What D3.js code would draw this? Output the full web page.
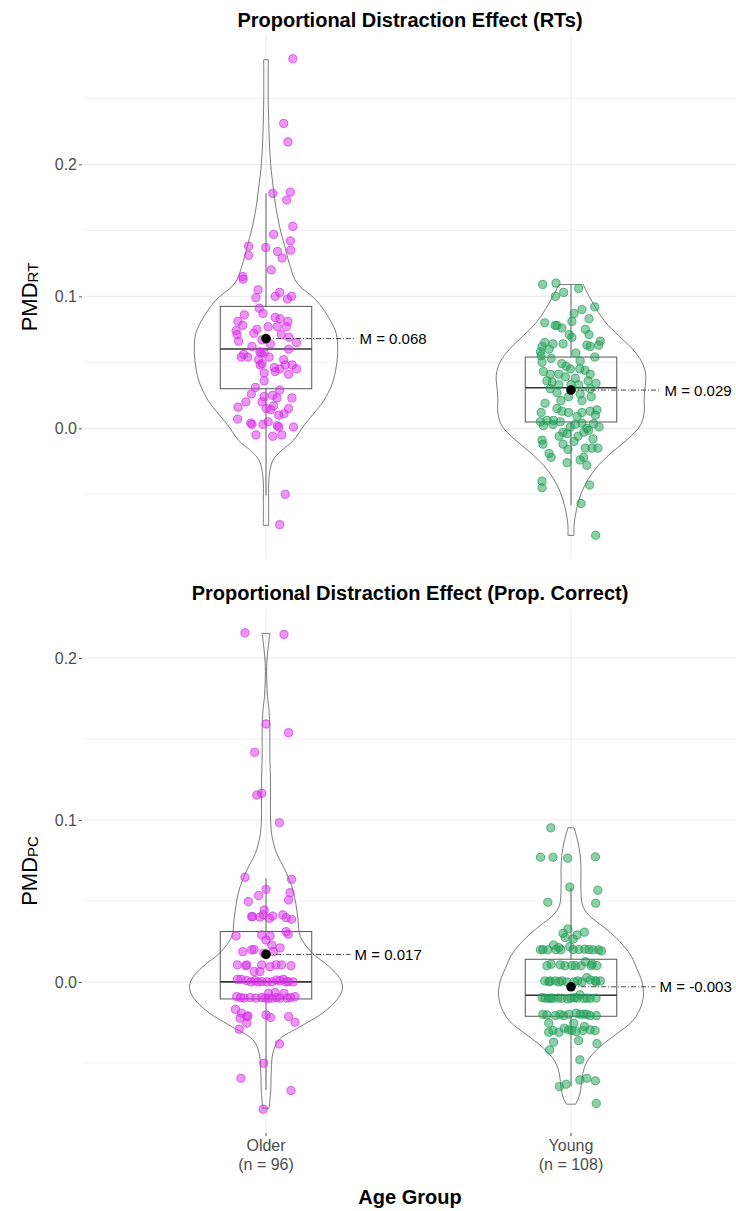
<!DOCTYPE html>
<html>
<head>
<meta charset="utf-8">
<script src="https://cdn.jsdelivr.net/npm/d3@7"></script>
<style>
  html, body { margin: 0; padding: 0; background: #fff; }
  svg { display: block; font-family: "Liberation Sans", Arial, sans-serif; }
</style>
</head>
<body>
<svg id="chart" width="736" height="1211"></svg>
<script>
// groups on the x axis
const groups = ["Older", "Young"];
const groupCounts = ["(n = 96)", "(n = 108)"];
const groupColors = ["#d62ee8", "#1f9e55"];
const xTitle = "Age Group";

// ---------- panel 1: RTs ----------
const rtTitle = "Proportional Distraction Effect (RTs)";
const rtTicks = [0, 0.1, 0.2];
const rtMinorTicks = [-0.05, 0.05, 0.15, 0.25];
const rtDomain = [-0.099, 0.298];
const rtMeans = [0.068, 0.029];
// [lower whisker, q1, median, q3, upper whisker]
const rtBoxes = [
  [-0.0508, 0.0300, 0.0601, 0.0924, 0.178],
  [-0.0583, 0.0048, 0.0308, 0.0540, 0.1089]
];
// violin outline: [value, relative density]
const rtViolinOlder = [
  [0.2793, 0.03], [0.2485, 0.03], [0.2235, 0.04], [0.2008, 0.06], [0.1803, 0.10],
  [0.1674, 0.13], [0.1523, 0.18], [0.1371, 0.25], [0.1220, 0.32], [0.1098, 0.41],
  [0.0970, 0.66], [0.0841, 0.82], [0.0720, 0.92], [0.0591, 0.94], [0.0462, 0.92],
  [0.0341, 0.87], [0.0212, 0.76], [0.0136, 0.66], [0.0023, 0.50], [-0.0091, 0.36],
  [-0.0170, 0.20], [-0.0242, 0.09], [-0.0371, 0.04], [-0.0545, 0.035], [-0.0735, 0.035]
];
const rtViolinYoung = [
  [0.1089, 0.16], [0.1008, 0.23], [0.0907, 0.33], [0.0805, 0.45], [0.0705, 0.62],
  [0.0604, 0.80], [0.0502, 0.93], [0.0402, 0.98], [0.0301, 0.97], [0.0225, 0.96],
  [0.0123, 0.96], [0.0023, 0.91], [-0.0078, 0.75], [-0.0180, 0.54], [-0.0280, 0.36],
  [-0.0381, 0.23], [-0.0483, 0.14], [-0.0608, 0.075], [-0.0735, 0.04], [-0.0811, 0.04]
];
// points: [jitter (-1..1), value]
const rtPointsOlder = [
  [0.88, 0.280], [0.58, 0.231], [0.72, 0.217], [0.80, 0.179], [0.22, 0.178], [0.68, 0.173],
  [0.88, 0.153], [0.25, 0.147], [0.80, 0.142], [-0.57, 0.138], [-0.01, 0.137], [0.81, 0.135],
  [0.38, 0.134], [-0.57, 0.131], [0.53, 0.129], [0.17, 0.120], [-0.76, 0.115], [-0.75, 0.113],
  [-0.26, 0.105], [0.45, 0.103], [-0.33, 0.099], [0.30, 0.100], [0.70, 0.098], [0.84, 0.100],
  [-0.22, 0.091], [-0.10, 0.087], [-0.71, 0.086], [0.30, 0.084], [-0.92, 0.081], [0.72, 0.081],
  [-0.76, 0.078], [0.07, 0.077], [0.37, 0.077], [0.67, 0.077], [-0.30, 0.075], [-0.98, 0.074],
  [-0.95, 0.071], [0.50, 0.071], [0.75, 0.069], [-0.90, 0.066], [-0.13, 0.067], [1.00, 0.065],
  [0.14, 0.064], [-0.46, 0.062], [0.74, 0.060], [-0.73, 0.056], [-0.16, 0.057], [-0.06, 0.057],
  [-0.81, 0.054], [-0.60, 0.054], [-0.24, 0.052], [0.58, 0.052], [-0.13, 0.049], [-0.19, 0.048],
  [0.63, 0.048], [0.86, 0.048], [0.27, 0.046], [0.45, 0.045], [1.00, 0.045], [-0.06, 0.042],
  [0.30, 0.043], [0.74, 0.041], [-0.06, 0.036], [-0.35, 0.031], [0.45, 0.029], [-0.48, 0.026],
  [-0.06, 0.024], [0.22, 0.025], [0.36, 0.023], [0.85, 0.023], [-0.13, 0.020], [0.25, 0.017],
  [-0.92, 0.016], [0.01, 0.015], [0.74, 0.015], [0.16, 0.014], [0.42, 0.010], [-0.93, 0.007],
  [-0.50, 0.004], [-0.46, 0.003], [0.37, 0.002], [0.42, 0.001], [0.90, 0.001], [-0.33, -0.005],
  [0.22, -0.006], [0.52, -0.005], [0.63, -0.050], [0.45, -0.073], [-0.20, 0.058], [0.10, 0.054],
  [-0.40, 0.072], [0.46, 0.083], [-0.66, 0.020], [0.59, 0.011], [0.07, 0.005], [-0.10, 0.003]
];
const rtPointsYoung = [
  [-0.93, 0.109], [-0.49, 0.110], [-0.24, 0.103], [-0.51, 0.100], [0.25, 0.106], [0.36, 0.090],
  [0.78, 0.092], [0.10, 0.087], [0.03, 0.081], [-0.86, 0.080], [-0.46, 0.078], [-0.30, 0.076],
  [0.47, 0.075], [0.59, 0.071], [-0.06, 0.071], [0.03, 0.069], [0.96, 0.066], [-0.86, 0.065],
  [-0.59, 0.064], [-0.26, 0.064], [0.52, 0.063], [0.91, 0.063], [-0.95, 0.062], [0.63, 0.062],
  [-1.00, 0.058], [-0.98, 0.055], [-0.65, 0.053], [0.78, 0.054], [-0.95, 0.050], [-0.30, 0.049],
  [0.30, 0.051], [-0.02, 0.045], [0.29, 0.045], [-0.90, 0.043], [-0.68, 0.041], [-0.40, 0.041],
  [0.63, 0.041], [-0.19, 0.039], [0.14, 0.038], [-0.62, 0.035], [0.56, 0.036], [-0.40, 0.033],
  [0.25, 0.033], [-0.68, 0.030], [0.63, 0.030], [-0.46, 0.027], [0.30, 0.026], [-0.08, 0.024],
  [0.36, 0.021], [-0.98, 0.012], [-0.46, 0.015], [-0.30, 0.013], [-0.08, 0.012], [0.36, 0.012],
  [0.63, 0.013], [0.85, 0.014], [0.80, 0.010], [-1.00, 0.005], [-0.79, 0.006], [-0.57, 0.006],
  [-0.35, 0.005], [0.14, 0.003], [0.36, 0.004], [0.74, 0.0035], [-0.90, 0.002], [-0.02, 0.001],
  [0.52, 0.000], [-0.26, -0.003], [-0.13, -0.004], [0.42, -0.003], [0.58, -0.0015], [0.23, -0.006],
  [-0.95, -0.009], [-0.92, -0.012], [0.47, -0.015], [0.69, -0.015], [0.88, -0.015], [-0.10, -0.016],
  [0.42, -0.022], [-0.65, -0.022], [0.30, -0.024], [-0.13, -0.026], [-0.95, -0.040], [-0.95, -0.045],
  [0.61, -0.043], [0.33, -0.057], [0.81, -0.081], [-0.72, 0.060], [0.16, 0.057], [-0.16, 0.047],
  [0.46, 0.044], [-0.79, 0.036], [0.00, 0.033], [0.82, 0.034], [-0.33, 0.021], [0.66, 0.024],
  [-0.85, 0.019], [0.20, 0.009], [-0.59, 0.003], [0.92, 0.001], [-0.39, -0.006], [0.10, -0.010],
  [0.72, -0.008], [-0.72, -0.019], [-0.26, -0.012], [0.52, -0.028], [-0.52, 0.078], [0.59, 0.083]
];

// ---------- panel 2: proportion correct ----------
const pcTitle = "Proportional Distraction Effect (Prop. Correct)";
const pcTicks = [0, 0.1, 0.2];
const pcMinorTicks = [-0.05, 0.05, 0.15];
const pcDomain = [-0.0933, 0.2303];
const pcMeans = [0.017, -0.003];
const pcBoxes = [
  [-0.0667, -0.0105, 0.0000, 0.0311, 0.064],
  [-0.0646, -0.0212, -0.0082, 0.0140, 0.0582]
];
const pcViolinOlder = [
  [0.2152, 0.05], [0.2070, 0.03], [0.1967, 0.01], [0.1864, 0.01], [0.1761, 0.02],
  [0.1679, 0.04], [0.1556, 0.05], [0.1412, 0.05], [0.1206, 0.06], [0.1000, 0.06],
  [0.0897, 0.08], [0.0794, 0.14], [0.0691, 0.25], [0.0588, 0.34], [0.0486, 0.39],
  [0.0383, 0.42], [0.0280, 0.45], [0.0177, 0.61], [0.0094, 0.83], [0.0012, 0.98],
  [-0.0049, 1.00], [-0.0111, 0.93], [-0.0193, 0.74], [-0.0276, 0.45], [-0.0358, 0.17],
  [-0.0440, 0.09], [-0.0543, 0.07], [-0.0687, 0.06], [-0.0780, 0.04]
];
const pcViolinYoung = [
  [0.0952, 0.04], [0.0866, 0.09], [0.0784, 0.12], [0.0702, 0.13], [0.0578, 0.13],
  [0.0475, 0.15], [0.0414, 0.23], [0.0331, 0.45], [0.0249, 0.64], [0.0167, 0.78],
  [0.0085, 0.86], [0.0002, 0.93], [-0.0080, 0.95], [-0.0162, 0.91], [-0.0245, 0.80],
  [-0.0327, 0.58], [-0.0409, 0.36], [-0.0492, 0.21], [-0.0574, 0.15], [-0.0656, 0.13],
  [-0.0718, 0.10], [-0.0755, 0.06]
];
const pcPointsOlder = [
  [-0.69, 0.2156], [0.59, 0.2146], [0.00, 0.1593], [0.74, 0.1539], [-0.37, 0.1418], [-0.30, 0.1154],
  [-0.14, 0.1165], [0.44, 0.0983], [-0.69, 0.0646], [0.84, 0.0634], [0.00, 0.0572], [0.79, 0.0551],
  [-0.24, 0.0533], [0.74, 0.0506], [-0.58, 0.0496], [-0.06, 0.0444], [-0.47, 0.0403], [-0.44, 0.0403],
  [-0.09, 0.0414], [0.11, 0.0393], [0.22, 0.0407], [0.55, 0.0414], [0.66, 0.0397], [0.84, 0.0387],
  [-0.98, 0.0284], [-0.14, 0.0290], [0.13, 0.0284], [0.73, 0.0294], [0.00, 0.0259], [0.19, 0.0228],
  [-0.76, 0.0187], [-0.47, 0.0198], [0.24, 0.0187], [-0.07, 0.0177], [-0.94, 0.0105], [-0.63, 0.0105],
  [-0.14, 0.0105], [0.13, 0.0094], [0.51, 0.0105], [-0.39, 0.0064], [-0.20, 0.0064], [-0.94, 0.0016],
  [-0.82, 0.0016], [-0.63, 0.0008], [-0.36, 0.0008], [-0.14, 0.0002], [0.35, 0.0012], [0.46, 0.0008],
  [0.57, 0.0016], [0.73, 0.0002], [-0.96, -0.0091], [-0.83, -0.0097], [-0.52, -0.0097], [-0.14, -0.0097],
  [0.08, -0.0070], [0.30, -0.0066], [0.35, -0.0097], [0.59, -0.0070], [0.81, -0.0097], [0.95, -0.0091],
  [0.08, -0.0101], [-1.00, -0.0169], [-0.80, -0.0193], [-0.63, -0.0214], [-0.85, -0.0224], [-0.63, -0.0255],
  [-0.88, -0.0292], [0.00, -0.0204], [0.15, -0.0220], [0.74, -0.0214], [0.95, -0.0249], [0.44, -0.0383],
  [-0.07, -0.0502], [-0.82, -0.0595], [0.82, -0.0671], [-0.09, -0.0786], [-0.26, 0.0000], [0.03, 0.0000],
  [0.20, 0.0000], [0.66, 0.0000], [0.89, 0.0000], [-0.49, 0.0000], [-0.72, -0.0100], [-0.33, -0.0100],
  [0.20, -0.0100], [0.46, -0.0100], [0.69, -0.0100], [-0.03, -0.0100], [-0.39, 0.0200], [0.46, 0.0210],
  [-0.66, 0.0100], [0.33, 0.0105], [0.66, 0.0310], [-0.59, -0.0210], [-0.20, 0.0400], [0.82, 0.0100]
];
const pcPointsYoung = [
  [-0.66, 0.0952], [-1.00, 0.0770], [-0.59, 0.0770], [-0.11, 0.0764], [0.80, 0.0772], [-0.04, 0.0586],
  [0.88, 0.0566], [-0.76, 0.0492], [0.81, 0.0486], [-0.10, 0.0327], [0.44, 0.0307], [-0.19, 0.0274],
  [0.07, 0.0265], [-0.57, 0.0228], [-0.40, 0.0212], [-0.04, 0.0218], [-1.00, 0.0198], [-0.76, 0.0198],
  [-0.33, 0.0198], [0.45, 0.0202], [0.72, 0.0198], [0.91, 0.0198], [1.00, 0.0191], [0.47, 0.0125],
  [-0.65, 0.0109], [-0.35, 0.0105], [0.03, 0.0101], [0.14, 0.0101], [0.85, 0.0101], [0.52, 0.0027],
  [0.80, 0.0008], [-0.86, 0.0006], [-0.68, 0.0006], [-0.51, 0.0006], [-0.30, 0.0006], [0.22, 0.0006],
  [0.63, 0.0012], [0.96, 0.0006], [-0.95, -0.0097], [-0.73, -0.0101], [-0.59, -0.0101], [-0.30, -0.0101],
  [-0.11, -0.0105], [0.11, -0.0097], [0.29, -0.0080], [0.42, -0.0101], [0.63, -0.0101], [-0.79, -0.0204],
  [-0.51, -0.0208], [-0.24, -0.0208], [0.17, -0.0193], [0.42, -0.0199], [0.63, -0.0208], [0.83, -0.0208],
  [-0.73, -0.0255], [0.09, -0.0255], [0.44, -0.0276], [-0.73, -0.0311], [-0.40, -0.0311], [-0.22, -0.0286],
  [-0.08, -0.0296], [0.17, -0.0307], [0.63, -0.0296], [0.25, -0.0362], [-0.57, -0.0372], [0.85, -0.0381],
  [-0.70, -0.0420], [0.29, -0.0481], [-0.38, -0.0646], [-0.16, -0.0632], [0.29, -0.0605], [0.52, -0.0595],
  [0.80, -0.0611], [0.83, -0.0751], [-0.92, 0.0200], [-0.49, 0.0200], [0.07, 0.0200], [0.26, 0.0200],
  [0.59, 0.0200], [-0.20, 0.0100], [0.33, 0.0100], [-0.79, 0.0100], [0.66, 0.0100], [-0.72, 0.0000],
  [-0.39, 0.0000], [-0.13, 0.0000], [0.10, 0.0000], [0.36, 0.0000], [0.82, 0.0000], [-0.85, -0.0100],
  [-0.43, -0.0100], [0.00, -0.0100], [0.20, -0.0100], [0.52, -0.0100], [0.82, -0.0100], [-0.92, -0.0200],
  [-0.36, -0.0200], [-0.07, -0.0200], [0.30, -0.0200], [0.52, -0.0200], [-0.59, -0.0300], [0.03, -0.0300],
  [0.39, -0.0300], [0.79, -0.0300], [-0.26, 0.0300], [0.20, 0.0290], [0.69, 0.0110], [-0.66, -0.0100]
];

// ---------- layout ----------
const svg = d3.select("#chart");
const plotLeft = 83;
const plotRight = 754;
const titleCenter = 410;

const x = d3.scaleLinear().domain([0.4, 2.6]).range([plotLeft, plotRight]);
const densityWidth = d3.scaleLinear().domain([0, 1]).range([0, x(1.25) - x(1)]);
const jitterWidth = 0.1;
const boxHalf = 0.15;

const panels = [
  {
    title: rtTitle, ticks: rtTicks, minor: rtMinorTicks, domain: rtDomain,
    means: rtMeans, boxes: rtBoxes, violins: [rtViolinOlder, rtViolinYoung],
    points: [rtPointsOlder, rtPointsYoung], sub: "RT",
    top: 35, bottom: 559, titleY: 27, labelOffset: 0.3, showX: false
  },
  {
    title: pcTitle, ticks: pcTicks, minor: pcMinorTicks, domain: pcDomain,
    means: pcMeans, boxes: pcBoxes, violins: [pcViolinOlder, pcViolinYoung],
    points: [pcPointsOlder, pcPointsYoung], sub: "PC",
    top: 609, bottom: 1133, titleY: 600, labelOffset: 0.284, showX: true
  }
];

function drawPanel(p) {
  const y = d3.scaleLinear().domain(p.domain).range([p.bottom, p.top]);
  const g = svg.append("g");

  // grid
  g.selectAll(".minor")
    .data(p.minor)
    .enter()
    .append("line")
    .attr("x1", plotLeft).attr("x2", 736)
    .attr("y1", d => y(d)).attr("y2", d => y(d))
    .attr("stroke", "#efefef").attr("stroke-width", 0.8);

  g.selectAll(".major")
    .data(p.ticks)
    .enter()
    .append("line")
    .attr("x1", plotLeft).attr("x2", 736)
    .attr("y1", d => y(d)).attr("y2", d => y(d))
    .attr("stroke", "#ebebeb").attr("stroke-width", 1);

  g.selectAll(".vgrid")
    .data(groups)
    .enter()
    .append("line")
    .attr("x1", (d, i) => x(i + 1)).attr("x2", (d, i) => x(i + 1))
    .attr("y1", p.top).attr("y2", p.bottom)
    .attr("stroke", "#ebebeb").attr("stroke-width", 1);

  // y axis
  const axis = g.append("g")
    .attr("transform", `translate(${plotLeft - 1},0)`)
    .call(d3.axisLeft(y).tickValues(p.ticks).tickFormat(d3.format(".1f")).tickSize(3).tickPadding(2));
  axis.select(".domain").remove();
  axis.selectAll(".tick line").attr("stroke", "#555");
  axis.selectAll(".tick text")
    .attr("fill", "#4d4d4d")
    .style("font-size", "16px")
    .style("font-family", "'Liberation Sans', Arial, sans-serif");

  // y title with subscript
  const yMid = (p.top + p.bottom) / 2;
  const yt = g.append("text")
    .attr("transform", `translate(37,${yMid}) rotate(-90)`)
    .attr("text-anchor", "middle")
    .attr("fill", "#000");
  yt.append("tspan").style("font-size", "22px").text("PMD");
  yt.append("tspan").style("font-size", "15px").attr("dy", 1).text(p.sub);

  // title
  g.append("text")
    .attr("x", titleCenter).attr("y", p.titleY)
    .attr("text-anchor", "middle")
    .style("font-size", "20px").style("font-weight", "bold")
    .text(p.title);

  const violinArea = i => d3.area()
    .curve(d3.curveCatmullRom)
    .y(d => y(d[0]))
    .x0(d => x(i + 1) - densityWidth(d[1]))
    .x1(d => x(i + 1) + densityWidth(d[1]));

  p.violins.forEach((v, i) => {
    g.append("path")
      .attr("d", violinArea(i)(v))
      .attr("fill", "none")
      .attr("stroke", "#444")
      .attr("stroke-width", 0.7);
  });

  // boxes
  p.boxes.forEach((b, i) => {
    const cx = x(i + 1);
    const [lo, q1, med, q3, hi] = b;
    g.append("line").attr("x1", cx).attr("x2", cx).attr("y1", y(q3)).attr("y2", y(hi))
      .attr("stroke", "#666").attr("stroke-width", 1);
    g.append("line").attr("x1", cx).attr("x2", cx).attr("y1", y(q1)).attr("y2", y(lo))
      .attr("stroke", "#666").attr("stroke-width", 1);
    g.append("rect")
      .attr("x", x(i + 1 - boxHalf)).attr("width", x(i + 1 + boxHalf) - x(i + 1 - boxHalf))
      .attr("y", y(q3)).attr("height", y(q1) - y(q3))
      .attr("fill", "none").attr("stroke", "#555").attr("stroke-width", 1);
    g.append("line")
      .attr("x1", x(i + 1 - boxHalf)).attr("x2", x(i + 1 + boxHalf))
      .attr("y1", y(med)).attr("y2", y(med))
      .attr("stroke", "#333").attr("stroke-width", 1.6);
  });

  // jittered points
  p.points.forEach((pts, i) => {
    g.append("g")
      .selectAll("circle")
      .data(pts)
      .enter()
      .append("circle")
      .attr("cx", d => x(i + 1 + d[0] * jitterWidth))
      .attr("cy", d => y(d[1]))
      .attr("r", 4.1)
      .attr("fill", groupColors[i])
      .attr("fill-opacity", 0.5)
      .attr("stroke", groupColors[i])
      .attr("stroke-opacity", 0.7)
      .attr("stroke-width", 1);
  });

  // means with labels
  p.means.forEach((m, i) => {
    const cx = x(i + 1);
    g.append("line")
      .attr("x1", cx).attr("x2", x(i + 1 + p.labelOffset) - 2)
      .attr("y1", y(m)).attr("y2", y(m))
      .attr("stroke", "#000").attr("stroke-width", 0.7)
      .attr("stroke-dasharray", "5,2,1,2");
    g.append("circle")
      .attr("cx", cx).attr("cy", y(m)).attr("r", 4.8)
      .attr("fill", "#000");
    g.append("text")
      .attr("x", x(i + 1 + p.labelOffset) + 2).attr("y", y(m))
      .attr("dominant-baseline", "central")
      .style("font-size", "15px")
      .text(`M = ${d3.format(".3f")(m).replace("−", "-")}`);
  });

  if (p.showX) {
    const xg = g.append("g");
    groups.forEach((name, i) => {
      xg.append("line")
        .attr("x1", x(i + 1)).attr("x2", x(i + 1))
        .attr("y1", p.bottom).attr("y2", p.bottom + 3)
        .attr("stroke", "#555");
      const t = xg.append("text")
        .attr("x", x(i + 1)).attr("y", p.bottom + 18)
        .attr("text-anchor", "middle")
        .attr("fill", "#4d4d4d")
        .style("font-size", "16px");
      t.append("tspan").attr("x", x(i + 1)).text(name);
      t.append("tspan").attr("x", x(i + 1)).attr("dy", 19).text(groupCounts[i]);
    });
    g.append("text")
      .attr("x", titleCenter).attr("y", p.bottom + 71)
      .attr("text-anchor", "middle")
      .style("font-size", "20px").style("font-weight", "bold")
      .text(xTitle);
  }
}

panels.forEach(drawPanel);
</script>
</body>
</html>
